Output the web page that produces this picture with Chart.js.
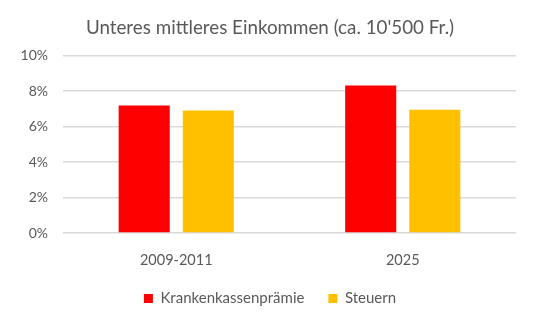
<!DOCTYPE html>
<html>
<head>
<meta charset="utf-8">
<script src="https://cdn.jsdelivr.net/npm/chart.js@4"></script>
<style>
html,body{margin:0;padding:0;background:#fff;}
#wrap{width:539px;height:328px;position:relative;}
</style>
</head>
<body>
<div id="wrap"><canvas id="c" width="539" height="328"></canvas></div>
<script>
const categories = ["2009-2011", "2025"];
const seriesNames = ["Krankenkassenprämie", "Steuern"];
const praemie = [7.18, 8.31];
const steuern = [6.9, 6.95];
const yTicks = [0, 2, 4, 6, 8, 10];
const titleText = "Unteres mittleres Einkommen (ca. 10'500 Fr.)";

const textColor = "#595959";
const fontFam = "Lato, 'Open Sans', sans-serif";

new Chart(document.getElementById('c'), {
  type: 'bar',
  data: {
    labels: categories,
    datasets: [
      {label: seriesNames[0], data: praemie, backgroundColor: "#FF0000", categoryPercentage: 0.566, barPercentage: 0.797},
      {label: seriesNames[1], data: steuern, backgroundColor: "#FFC000", categoryPercentage: 0.566, barPercentage: 0.797}
    ]
  },
  options: {
    responsive: false,
    animation: false,
    devicePixelRatio: 1,
    layout: {padding: {left: 12, right: 11, top: 0, bottom: 12}},
    plugins: {
      title: {display: true, text: titleText, color: textColor,
        font: {family: fontFam, size: 18.8, weight: 'normal'}, padding: {top: 17, bottom: 16}},
      legend: {position: 'bottom',
        labels: {color: textColor, font: {family: fontFam, size: 15}, boxWidth: 9, boxHeight: 9, padding: 24}},
      tooltip: {enabled: false}
    },
    scales: {
      x: {
        grid: {display: false},
        border: {display: false},
        afterFit: (s) => { s.height = 34; },
        ticks: {color: textColor, font: {family: fontFam, size: 14.5}, padding: 11}
      },
      y: {
        min: 0, max: 10,
        afterBuildTicks: (s) => { s.ticks = yTicks.map(v => ({value: v})); },
        afterFit: (s) => { s.width = 51; },
        grid: {color: "#d9d9d9", lineWidth: 1.5, drawTicks: false},
        border: {display: false},
        ticks: {color: textColor, font: {family: fontFam, size: 14}, padding: 15,
          callback: (v) => v + "%"}
      },
      yRight: {
        type: 'linear', position: 'right', display: true,
        grid: {display: false}, border: {display: false}, ticks: {display: false},
        afterFit: (s) => { s.width = 12; }
      }
    }
  }
});
</script>
</body>
</html>
